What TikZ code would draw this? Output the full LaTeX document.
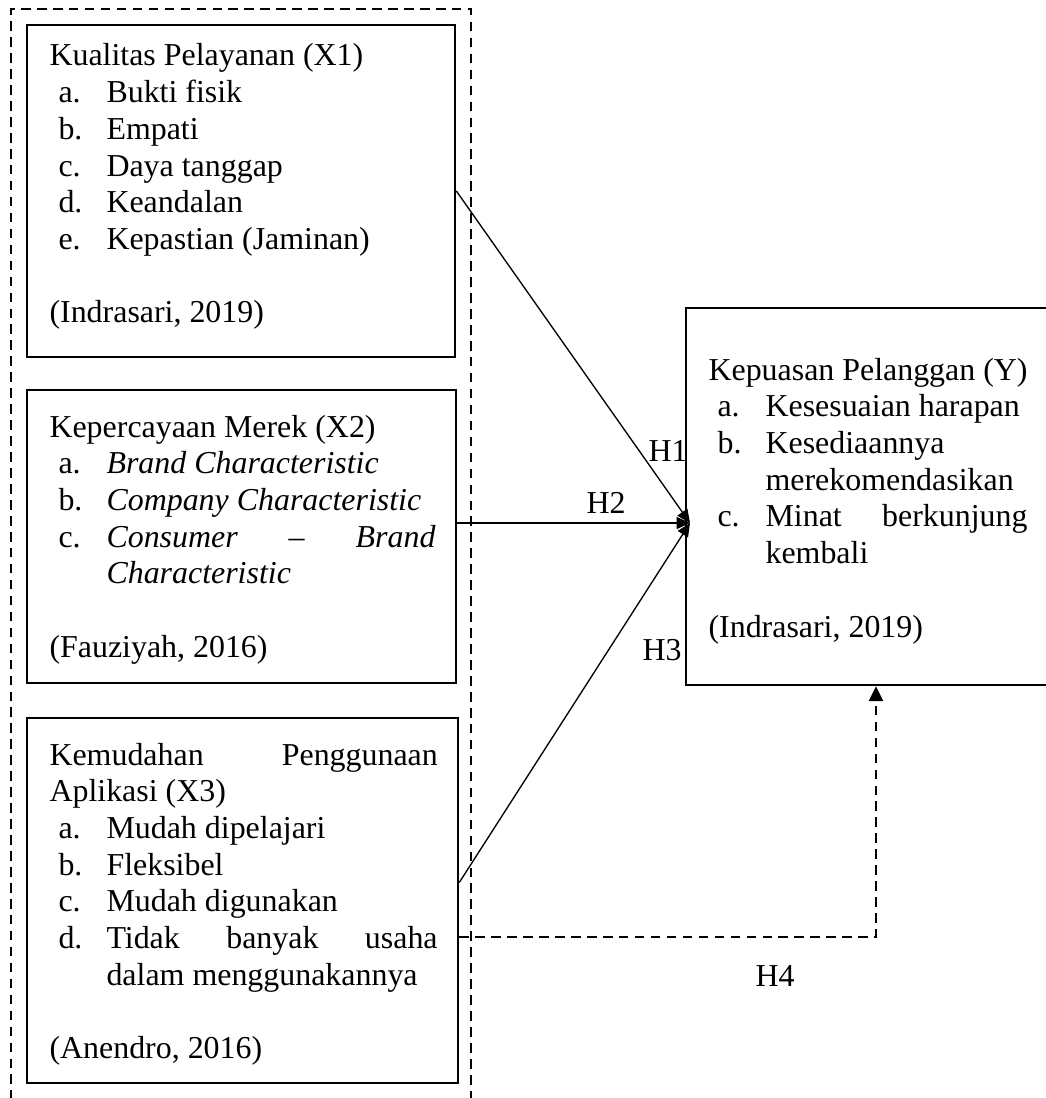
\documentclass[tikz,border=0pt]{standalone}
\usepackage{fontspec}
\setmainfont{Liberation Serif}
\usetikzlibrary{arrows.meta,fit}
\begin{document}
\begin{tikzpicture}[x=0.376pt,y=-0.376pt,
  box/.style={draw,line width=1pt,inner sep=0pt},
  txt/.style={anchor=base west,inner sep=0pt,font=\fontsize{12pt}{13.8pt}\selectfont},
  hlab/.style={anchor=center,inner sep=0pt,font=\fontsize{12pt}{13.8pt}\selectfont},
  conn/.style={line width=0.5pt,-{Triangle[length=5pt,width=4.5pt]}},
  dconn/.style={line width=0.75pt,dash pattern=on 3.6pt off 2.4pt,-{Triangle[length=5.6pt,width=5.4pt]}},
  outer/.style={line width=0.75pt,dash pattern=on 3.6pt off 2.4pt}]
\useasboundingbox (0,0) rectangle (1045,1098);
% outer dashed frame (open at the bottom)
\draw[outer] (11,1100) -- (11,9) -- (471,9) -- (471,1100);
% boxes
\node[box,fit={(27,25) (455,357)}] (X1) {};
\node[box,fit={(27,390) (456,683)}] (X2) {};
\node[box,fit={(27,718) (458,1083)}] (X3) {};
\node[box,fit={(686,308) (1066,685)}] (Y) {};
% X1 text
\node[txt] (x1t) at (49,66) {Kualitas Pelayanan (X1)};
\node[txt] (x1a) at (58,102.7) {a.};
\node[txt] (x1at) at (106,102.7) {Bukti fisik};
\node[txt] (x1b) at (58,139.4) {b.};
\node[txt] (x1bt) at (106,139.4) {Empati};
\node[txt] (x1c) at (58,176.1) {c.};
\node[txt] (x1ct) at (106,176.1) {Daya tanggap};
\node[txt] (x1d) at (58,212.8) {d.};
\node[txt] (x1dt) at (106,212.8) {Keandalan};
\node[txt] (x1e) at (58,249.5) {e.};
\node[txt] (x1et) at (106,249.5) {Kepastian (Jaminan)};
\node[txt] (x1s) at (49,323) {(Indrasari, 2019)};
% X2 text
\node[txt] (x2t) at (49,437) {Kepercayaan Merek (X2)};
\node[txt] (x2a) at (58,473.7) {a.};
\node[txt] (x2at) at (106,473.7) {\itshape Brand Characteristic};
\node[txt] (x2b) at (58,510.4) {b.};
\node[txt] (x2bt) at (106,510.4) {\itshape Company Characteristic};
\node[txt] (x2c) at (58,547.1) {c.};
\node[txt] (x2ct) at (106,547.1) {\hbox to 123.7pt{\itshape Consumer\hfill --\hfill Brand}};
\node[txt] (x2ct2) at (106,583.8) {\itshape Characteristic};
\node[txt] (x2s) at (49,657.5) {(Fauziyah, 2016)};
% X3 text
\node[txt] (x3t) at (49,765) {\hbox to 146pt{Kemudahan\hfill Penggunaan}};
\node[txt] (x3t2) at (49,801.7) {Aplikasi (X3)};
\node[txt] (x3a) at (58,838.4) {a.};
\node[txt] (x3at) at (106,838.4) {Mudah dipelajari};
\node[txt] (x3b) at (58,875.1) {b.};
\node[txt] (x3bt) at (106,875.1) {Fleksibel};
\node[txt] (x3c) at (58,911.8) {c.};
\node[txt] (x3ct) at (106,911.8) {Mudah digunakan};
\node[txt] (x3d) at (58,948.5) {d.};
\node[txt] (x3dt) at (106,948.5) {\hbox to 124.5pt{Tidak\hfill banyak\hfill usaha}};
\node[txt] (x3dt2) at (106,985.2) {dalam menggunakannya};
\node[txt] (x3s) at (49,1058.6) {(Anendro, 2016)};
% Y text
\node[txt] (yt) at (708,380) {Kepuasan Pelanggan (Y)};
\node[txt] (ya) at (717,416.7) {a.};
\node[txt] (yat) at (765,416.7) {Kesesuaian harapan};
\node[txt] (yb) at (717,453.4) {b.};
\node[txt] (ybt) at (765,453.4) {Kesediaannya};
\node[txt] (ybt2) at (765,490.1) {merekomendasikan};
\node[txt] (yc) at (717,526.8) {c.};
\node[txt] (yct) at (765,526.8) {\hbox to 98.5pt{Minat\hfill berkunjung}};
\node[txt] (yct2) at (765,563.5) {kembali};
\node[txt] (ys) at (708,637) {(Indrasari, 2019)};
% connectors
\coordinate (yin) at (690,523);
\draw[conn] (X1.east) -- (yin);
\draw[conn] (X2.east |- yin) -- (yin);
\draw[conn] ([yshift=6.8pt]X3.east) -- (yin);
\coordinate (h4s) at ([yshift=-13.7pt]X3.east);
\coordinate (h4c) at (Y.south |- h4s);
\draw[dconn] (h4s) -- (h4c) -- (Y.south);
% hypothesis labels
\node[hlab] (H1) at (668,451) {H1};
\node[hlab] (H2) at (606,503) {H2};
\node[hlab] (H3) at (662,650) {H3};
\node[hlab] (H4) at (775,976) {H4};
\end{tikzpicture}
\end{document}
